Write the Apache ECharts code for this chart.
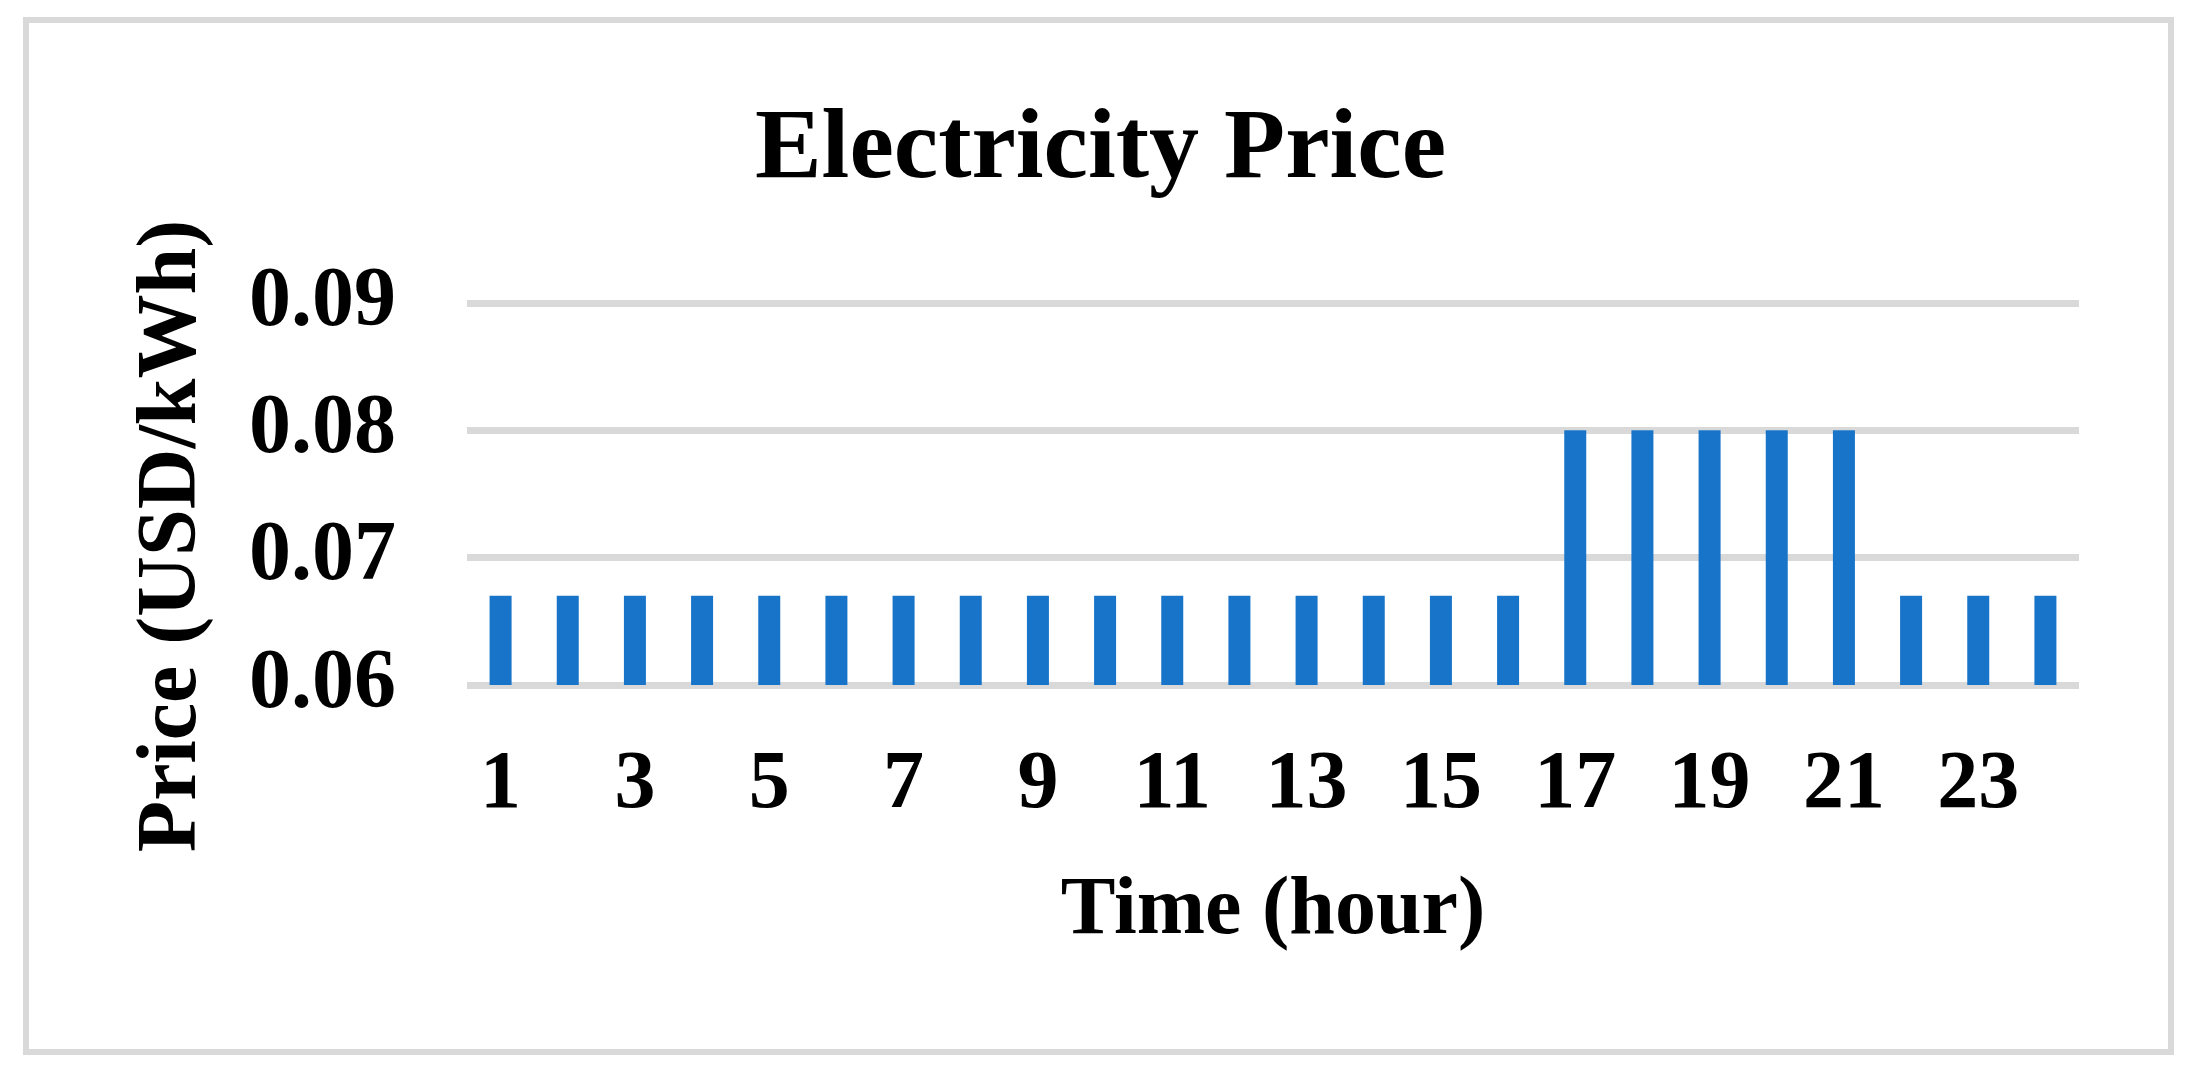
<!DOCTYPE html>
<html>
<head>
<meta charset="utf-8">
<script src="https://cdn.jsdelivr.net/npm/echarts@6/dist/echarts.min.js"></script>
<style>
  html, body { margin: 0; padding: 0; background: #fff; }
  #chart { width: 2201px; height: 1075px; }
</style>
</head>
<body>
<div id="chart"></div>
<script>
// hours of the day
var hours = ['1','2','3','4','5','6','7','8','9','10','11','12','13','14','15','16','17','18','19','20','21','22','23','24'];
// price per hour, USD/kWh
var prices = [0.067,0.067,0.067,0.067,0.067,0.067,0.067,0.067,0.067,0.067,0.067,0.067,0.067,0.067,0.067,0.067,
	0.08,0.08,0.08,0.08,0.08,0.067,0.067,0.067];
var yTicks = { min: 0.06, max: 0.09, step: 0.01 };

var serif = '"Liberation Serif", "Times New Roman", serif';
var myChart = echarts.init(document.getElementById('chart'));
var option = {
	backgroundColor: '#fff',
	animation: false,
	title: {
		text: 'Electricity Price',
		left: 'center',
		top: 96,
		textStyle: { fontFamily: serif, fontWeight: 'bold', fontSize: 100, color: '#000' }
	},
	grid: { left: 467, right: 122, top: 303, bottom: 390 },
	xAxis: {
		type: 'category',
		data: hours,
		name: 'Time (hour)',
		nameLocation: 'middle',
		nameGap: 186,
		nameTextStyle: { fontFamily: serif, fontWeight: 'bold', fontSize: 82, color: '#000' },
		axisLine: { show: false },
		axisTick: { show: false },
		axisLabel: {
			interval: 1,
			margin: 60,
			fontFamily: serif, fontWeight: 'bold', fontSize: 82, color: '#000', lineHeight: 82
		}
	},
	yAxis: {
		type: 'value',
		min: yTicks.min,
		max: yTicks.max,
		interval: yTicks.step,
		axisLine: { show: false },
		axisTick: { show: false },
		axisLabel: {
			margin: 71,
			formatter: function(v){ return v.toFixed(2); },
			fontFamily: serif, fontWeight: 'bold', fontSize: 84, color: '#000'
		},
		splitLine: { lineStyle: { color: '#d9d9d9', width: 7 } }
	},
	series: [{
		type: 'bar',
		data: prices,
		barWidth: 22,
		itemStyle: { color: '#1874c9' }
	}],
	graphic: [
		{
			type: 'rect',
			shape: { x: 26, y: 20, width: 2145, height: 1032 },
			style: { fill: 'none', stroke: '#d9d9d9', lineWidth: 6 },
			silent: true
		},
		{
			type: 'text',
			x: 173,
			y: 536,
			rotation: Math.PI / 2,
			style: {
				text: 'Price (USD/kWh)',
				fontFamily: serif, fontWeight: 'bold', fontSize: 84, fill: '#000',
				textAlign: 'center', textVerticalAlign: 'middle'
			}
		}
	]
};
myChart.setOption(option);
</script>
</body>
</html>
